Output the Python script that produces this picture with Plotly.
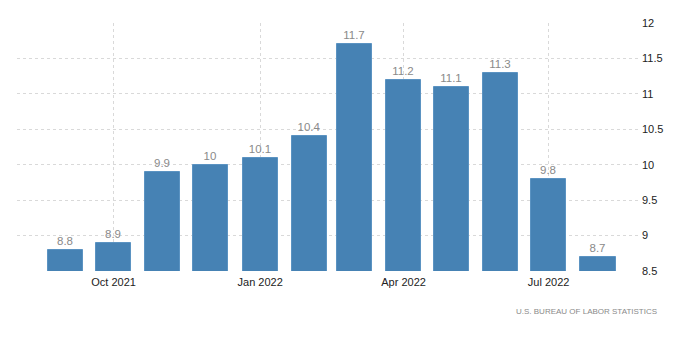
import plotly.graph_objects as go

months = ["2021-09-01", "2021-10-01", "2021-11-01", "2021-12-01", "2022-01-01", "2022-02-01",
          "2022-03-01", "2022-04-01", "2022-05-01", "2022-06-01", "2022-07-01", "2022-08-01"]
values = [8.8, 8.9, 9.9, 10, 10.1, 10.4, 11.7, 11.2, 11.1, 11.3, 9.8, 8.7]
tick_dates = ["2021-10-01", "2022-01-01", "2022-04-01", "2022-07-01"]
tick_labels = ["Oct 2021", "Jan 2022", "Apr 2022", "Jul 2022"]
y_ticks = [8.5, 9, 9.5, 10, 10.5, 11, 11.5, 12]
y_tick_labels = ["8.5", "9", "9.5", "10", "10.5", "11", "11.5", "12"]
source = "U.S. BUREAU OF LABOR STATISTICS"

DAY = 86400000
fig = go.Figure()
fig.add_trace(go.Bar(
    x=months, y=values,
    width=[22 * DAY] * len(values),
    marker=dict(color="#4682b4", line=dict(color="#5b93c2", width=1)),
    text=[f"{v:g}" for v in values],
    textposition="outside",
    textfont=dict(family="Liberation Sans, Arial", size=11.5, color="#8a8a8a"),
    cliponaxis=False,
    hoverinfo="skip",
))

fig.update_layout(
    width=692, height=356,
    margin=dict(l=9, r=59, t=10, b=93),
    paper_bgcolor="white", plot_bgcolor="white",
    showlegend=False,
    bargap=0,
    xaxis=dict(
        type="date",
        range=["2021-08-01 10:00", "2022-08-28"],
        tickvals=tick_dates, ticktext=tick_labels,
        showgrid=True, gridcolor="#d9d9d9", griddash="dot", gridwidth=1,
        zeroline=False, showline=False, ticks="",
        ticklabelstandoff=3,
        tickfont=dict(family="Liberation Sans, Arial", size=11, color="#222222"),
    ),
    yaxis=dict(
        side="right",
        range=[8.5, 12],
        tickvals=y_ticks, ticktext=y_tick_labels,
        showgrid=True, gridcolor="#d9d9d9", griddash="dot", gridwidth=1,
        zeroline=False, showline=False, ticks="",
        tickfont=dict(family="Liberation Sans, Arial", size=11, color="#222222"),
    ),
    annotations=[dict(
        text=source, xref="paper", yref="paper", x=1.029, y=-0.165,
        xanchor="right", yanchor="middle", showarrow=False,
        font=dict(family="Liberation Sans, Arial", size=8, color="#8a8a8a"),
    )],
)

fig.write_html("out.html")
